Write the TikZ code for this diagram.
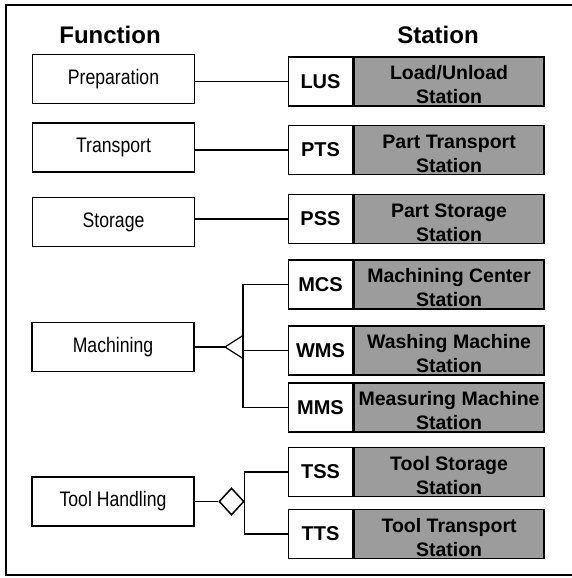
\documentclass[tikz,border=0pt]{standalone}
\usepackage{fontspec}
\setmainfont{Liberation Sans}
\newfontfamily\condfont[FakeStretch=0.84]{Liberation Sans}
\usetikzlibrary{shapes.geometric}
\definecolor{stgray}{HTML}{9C9C9C}
\tikzset{
  fbox/.style={draw, line width=1.6pt, inner sep=0pt, minimum width=162pt, minimum height=49pt,
    font=\condfont\fontsize{21}{23}\selectfont},
  codebox/.style={draw, line width=1.6pt, fill=white, inner sep=0pt, minimum width=64pt, minimum height=49pt,
    font=\bfseries\fontsize{20}{22}\selectfont},
  graybox/.style={draw, line width=1.6pt, fill=stgray, inner sep=0pt, minimum width=190pt, minimum height=49pt},
  graytext/.style={align=center, inner sep=0pt, font=\bfseries\fontsize{19.5}{24}\selectfont},
  conn/.style={line width=1.2pt},
  title/.style={font=\bfseries\fontsize{24}{26}\selectfont, inner sep=0pt},
}
\newcommand{\station}[4]{%
  \node[codebox] (#1) at (320.5,#2) {#3};
  \node[graybox, anchor=west] (#1g) at (#1.east) {};
  \node[graytext, yshift=-3.5pt] (#1t) at (#1g.center) {#4};
}
\begin{document}
\begin{tikzpicture}[x=1pt, y=-1pt]
\useasboundingbox (0,0) rectangle (572,578);
% frame
\draw[line width=1.8pt] (572,5) -- (6,5) -- (6,575) -- (572,575);
% titles
\node[title] (tf) at (110,35) {Function};
\node[title] (ts) at (438,35) {Station};
% function boxes
\node[fbox] (prep) at (113.5,79) {Preparation};
\node[fbox] (trans) at (113.5,147.5) {Transport};
\node[fbox] (stor) at (113.5,222) {Storage};
\node[fbox] (mach) at (113,347) {Machining};
\node[fbox] (tool) at (113,501.5) {Tool Handling};
% stations
\station{lus}{81.5}{LUS}{Load/Unload\\Station}
\station{pts}{150}{PTS}{Part Transport\\Station}
\station{pss}{219}{PSS}{Part Storage\\Station}
\station{mcs}{284.5}{MCS}{Machining Center\\Station}
\station{wms}{350.5}{WMS}{Washing Machine\\Station}
\station{mms}{407.5}{MMS}{Measuring Machine\\Station}
\station{tss}{472}{TSS}{Tool Storage\\Station}
\station{tts}{534}{TTS}{Tool Transport\\Station}
% simple connectors
\draw[conn] (lus.west) -- (lus.west -| prep.east);
\draw[conn] (pts.west) -- (pts.west -| trans.east);
\draw[conn] (pss.west) -- (pss.west -| stor.east);
% machining branch
\coordinate (tip) at (225,347);
\coordinate (bu) at (243,335.5);
\coordinate (bl) at (243,358.5);
\draw[conn] (mach.east) -- (tip);
\draw[conn, line join=miter] (bu) -- (tip) -- (bl);
\draw[conn] (mcs.west) -- (mcs.west -| bu) -- (mms.west -| bu) -- (mms.west);
\draw[conn] (wms.west) -- (wms.west -| bu);
% tool handling branch
\node[draw, diamond, line width=1.5pt, minimum width=25pt, minimum height=27pt, inner sep=0pt] (dia) at (231.5,501.5) {};
\draw[conn] (tool.east) -- (dia.west);
\draw[conn] (tss.west) -- (tss.west -| dia.east) -- (tts.west -| dia.east) -- (tts.west);
\end{tikzpicture}
\end{document}
